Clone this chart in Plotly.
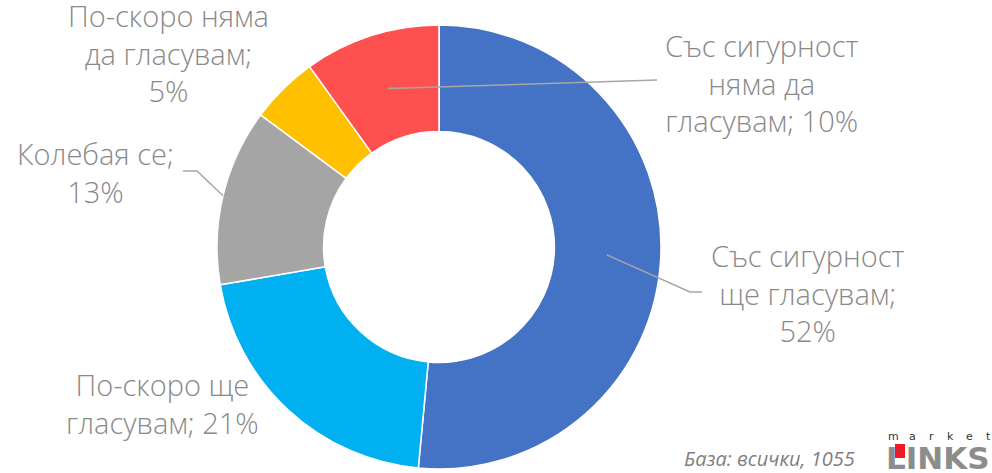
import math
import plotly.graph_objects as go

# ---- data ----
categories = ["Със сигурност ще гласувам", "По-скоро ще гласувам", "Колебая се",
              "По-скоро няма да гласувам", "Със сигурност няма да гласувам"]
values = [52, 21, 13, 5, 10]
label_texts = ["Със сигурност<br>ще гласувам;<br>52%",
               "По-скоро ще<br>гласувам; 21%",
               "Колебая се;<br>13%",
               "По-скоро няма<br>да гласувам;<br>5%",
               "Със сигурност<br>няма да<br>гласувам; 10%"]
colors = ["#4472C4", "#00B0F0", "#A5A5A5", "#FFC000", "#FF5050"]
footer = "База: всички, 1055"
logo_small = "market"
logo_big = "LINKS"

W, H = 992, 473
CX, CY, R = 439, 247, 222          # pie centre / radius in px
HOLE = 0.52

def px(x):
    return x / W

def py(y):
    return 1 - y / H

fig = go.Figure(go.Pie(
    labels=categories, values=values, hole=HOLE, sort=False,
    direction="clockwise", rotation=0,
    marker=dict(colors=colors, line=dict(color="white", width=1.5)),
    textinfo="none", hoverinfo="label+percent", showlegend=False,
    domain=dict(x=[px(CX - R), px(CX + R)], y=[py(CY + R), py(CY - R)]),
))

# label positions (centres, px) and leader geometry: (radius fraction, elbow points)
label_pos = [(808, 293), (162, 403), (95, 172), (168, 53), (762, 83)]
leaders = {0: (0.757, [(690, 292), (702, 292)]),
           2: (1.0, [(197, 171), (183, 171)]),
           4: (0.75, [(657, 80)])}

total = sum(values)
cum = 0
mids = []
for v in values:
    mids.append((cum + v / 2) / total * 2 * math.pi)
    cum += v

font = dict(family="Open Sans", size=29, color="#898989", weight=300)
for i, (lx, ly) in enumerate(label_pos):
    fig.add_annotation(x=px(lx), y=py(ly), xref="paper", yref="paper",
                       text=label_texts[i], showarrow=False, font=font,
                       xanchor="center", yanchor="middle", align="center")

for i, (rf, pts) in leaders.items():
    a = mids[i]
    sx = CX + rf * R * math.sin(a)
    sy = CY - rf * R * math.cos(a)
    path = f"M{px(sx)},{py(sy)}" + "".join(f" L{px(x)},{py(y)}" for x, y in pts)
    fig.add_shape(type="path", path=path, xref="paper", yref="paper",
                  line=dict(color="#A6A6A6", width=1.5))

# footer
fig.add_annotation(x=px(856), y=0, xref="paper", yref="paper", text=f"<i>{footer}</i>",
                   showarrow=False, xanchor="right", yanchor="bottom", borderpad=0,
                   font=dict(family="Open Sans", size=20, color="#7F7F7F"))

# logo
for k, ch in enumerate(logo_small):
    fig.add_annotation(x=px(893 + 19 * k), y=py(436), xref="paper", yref="paper",
                       text=ch, showarrow=False, xanchor="center", yanchor="middle", borderpad=0,
                       font=dict(family="DejaVu Sans", size=11, color="#333333"))
fig.add_annotation(x=px(885), y=py(458), xref="paper", yref="paper",
                   text=f"<b>{logo_big}</b>", showarrow=False, xanchor="left", yanchor="middle",
                   borderpad=0,
                   font=dict(family="DejaVu Sans", size=31, color="#8C8C8C"))
fig.add_shape(type="rect", xref="paper", yref="paper",
              x0=px(895), x1=px(905), y0=py(458), y1=py(444),
              fillcolor="#ED1C24", line_width=0)

fig.update_layout(width=W, height=H, margin=dict(l=0, r=0, t=0, b=0),
                  paper_bgcolor="white", plot_bgcolor="white")
fig.write_html("out.html")
